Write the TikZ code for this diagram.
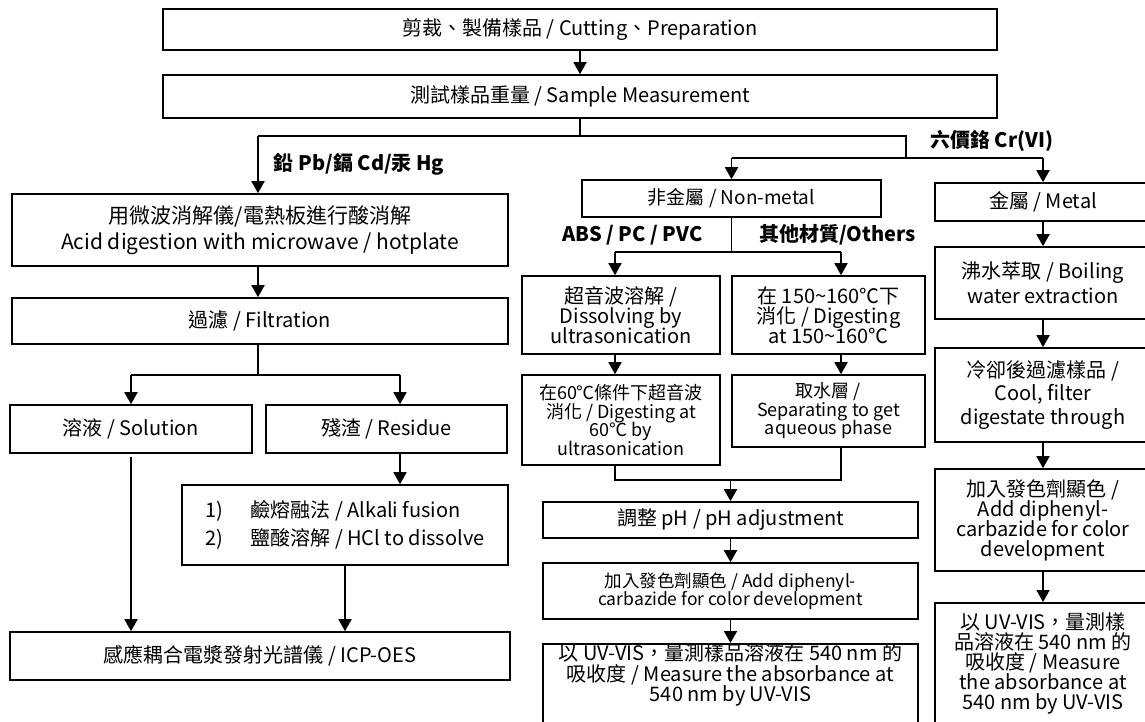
\documentclass[tikz,border=0pt]{standalone}
\usepackage{fontspec}
\setmainfont{Noto Sans CJK TC}
\usepackage{tikz}
\usetikzlibrary{arrows.meta, positioning, calc}
\lineskiplimit=-20pt
\tikzstyle{process} = [rectangle, draw=black, line width=1.6pt, align=center, inner sep=0pt, font=\fontsize{20}{24}\selectfont]
\tikzstyle{arrow} = [line width=1.8pt, -{Triangle[length=12pt, width=13pt]}]
\tikzstyle{link} = [line width=1.8pt]
\tikzstyle{branch} = [inner sep=0pt, font=\bfseries\fontsize{20}{24}\selectfont]

\begin{document}
\begin{tikzpicture}[x=1pt, y=-1pt]
\useasboundingbox (0,0) rectangle (1145,722);

\node (cut) [process, minimum width=834pt, minimum height=41pt] at (580,29.5) {剪裁、製備樣品 / Cutting、Preparation};
\node (weigh) [process, minimum width=834pt, minimum height=43pt] at (580,96.5) {測試樣品重量 / Sample Measurement};

\node (acid) [process, minimum width=496pt, minimum height=72pt, font=\fontsize{21}{26}\selectfont] at (260,230) {用微波消解儀/電熱板進行酸消解\\Acid digestion with microwave / hotplate};
\node (filt) [process, minimum width=496pt, minimum height=46pt] at (260,321) {過濾 / Filtration};
\node (sol) [process, minimum width=242pt, minimum height=48pt] at (131,429) {溶液 / Solution};
\node (res) [process, minimum width=241pt, minimum height=48pt] at (386.5,429) {殘渣 / Residue};
\node (fusion) [process, minimum width=326pt, minimum height=80pt, align=left, font=\fontsize{20}{28}\selectfont] at (345,525) {\makebox[45pt][l]{1)}鹼熔融法 / Alkali fusion\\\makebox[45pt][l]{2)}鹽酸溶解 / HCl to dissolve};
\node (icp) [process, minimum width=500pt, minimum height=48pt] at (260,656) {感應耦合電漿發射光譜儀 / ICP-OES};

\node (nonmetal) [process, minimum width=299pt, minimum height=37pt, font=\fontsize{19}{23}\selectfont] at (731.5,198.5) {非金屬 / Non-metal};
\node (ultra) [process, minimum width=198pt, minimum height=78pt, font=\fontsize{20}{20}\selectfont] at (621,315) {超音波溶解 /\\Dissolving by\\ultrasonication};
\node (hot) [process, minimum width=193pt, minimum height=78pt, font=\fontsize{20}{20}\selectfont] at (828.5,315) {在 150\textasciitilde160℃下\\消化 / Digesting\\at 150\textasciitilde160℃};
\node (sixty) [process, minimum width=198pt, minimum height=90pt, font=\fontsize{18}{18.5}\selectfont] at (621,420) {在60℃條件下超音波\\消化 / Digesting at\\60℃ by\\ultrasonication};
\node (aqua) [process, minimum width=193pt, minimum height=72pt, font=\fontsize{18}{18.5}\selectfont] at (828.5,411) {取水層 /\\Separating to get\\aqueous phase};
\node (ph) [process, minimum width=375pt, minimum height=36pt] at (730.5,520) {調整 pH / pH adjustment};
\node (dye) [process, minimum width=375pt, minimum height=56pt, font=\fontsize{17.5}{18}\selectfont] at (730.5,591) {加入發色劑顯色 / Add diphenyl-\\carbazide for color development};
\node (uv) [process, minimum width=375pt, anchor=north, font=\fontsize{20}{20.5}\selectfont] at (730.5,643) {以 UV-VIS，量測樣品溶液在 540 nm 的\\吸收度 / Measure the absorbance at\\540 nm by UV-VIS\rule[-30pt]{0pt}{0pt}};

\node (metal) [process, minimum width=216pt, minimum height=38pt] at (1043,202) {金屬 / Metal};
\node (boil) [process, minimum width=216pt, minimum height=72pt, font=\fontsize{20}{25}\selectfont] at (1043,283) {沸水萃取 / Boiling\\water extraction};
\node (cool) [process, minimum width=216pt, minimum height=94pt, font=\fontsize{20}{23.5}\selectfont] at (1043,395) {冷卻後過濾樣品 /\\Cool, filter\\digestate through};
\node (dyeR) [process, minimum width=216pt, minimum height=102pt, font=\fontsize{20}{20}\selectfont] at (1043,520) {加入發色劑顯色 /\\Add diphenyl-\\carbazide for color\\development};
\node (uvR) [process, minimum width=216pt, anchor=north, inner ysep=10pt, font=\fontsize{20}{20}\selectfont] at (1043,602) {以 UV-VIS，量測樣\\品溶液在 540 nm 的\\吸收度 / Measure\\the absorbance at\\540 nm by UV-VIS\rule[-30pt]{0pt}{0pt}};

\coordinate (hub) at (580,136);
\coordinate (leadL) at (258,136);
\coordinate (leadR) at (906,136);
\coordinate (forkR) at (906,158);
\coordinate (forkL) at (258,375);
\coordinate (solTop) at (131,375);
\coordinate (resTop) at (400,375);
\coordinate (forkM) at (731.5,252);
\coordinate (colA) at (615,252);
\coordinate (colB) at (841,252);
\coordinate (joinM) at (730.5,480);

\draw [arrow] (cut) -- (weigh);
\draw [link] (weigh.south) -- (hub);
\draw [link] (leadL) -- (leadR) -- (forkR);
\draw [arrow] (leadL) -- node[branch, right=15pt] (pbcd) {鉛 Pb/鎘 Cd/汞 Hg} (acid.north -| leadL);
\draw [link] (nonmetal.north |- forkR) -- (metal.north |- forkR);
\draw [arrow] (nonmetal.north |- forkR) -- (nonmetal.north);
\draw [arrow] (metal.north |- forkR) -- (metal.north);
\node (cr) [branch, anchor=west] at (930,141) {六價鉻 Cr(VI)};

\draw [arrow] (acid.south -| leadL) -- (filt.north -| leadL);
\draw [link] (filt.south -| forkL) -- (forkL);
\draw [link] (solTop) -- (resTop);
\draw [arrow] (solTop) -- (sol.north -| solTop);
\draw [arrow] (resTop) -- (res.north -| resTop);
\draw [arrow] (res.south -| resTop) -- (fusion.north -| resTop);
\draw [arrow, shorten <=3pt] (sol.south) -- (icp.north -| sol.south);
\draw [arrow] (fusion.south) -- (icp.north -| fusion.south);

\draw [link] (nonmetal.south) -- node[branch, left=28pt] (abs) {ABS / PC / PVC} node[branch, right=27pt] (others) {其他材質/Others} (forkM);
\draw [link] (colA) -- (colB);
\draw [arrow] (colA) -- (ultra.north -| colA);
\draw [arrow] (colB) -- (hot.north -| colB);
\draw [arrow] (ultra.south -| colA) -- (sixty.north -| colA);
\draw [arrow] (hot.south -| colB) -- (aqua.north -| colB);
\draw [link] (sixty.south -| colA) -- (colA |- joinM) -- (colB |- joinM) -- (aqua.south -| colB);
\draw [arrow] (joinM) -- (ph.north);
\draw [arrow] (ph) -- (dye);
\draw [arrow] (dye) -- (uv);

\draw [arrow] (metal) -- (boil);
\draw [arrow] (boil) -- (cool);
\draw [arrow] (cool) -- (dyeR);
\draw [arrow] (dyeR) -- (uvR);
\end{tikzpicture}
\end{document}
